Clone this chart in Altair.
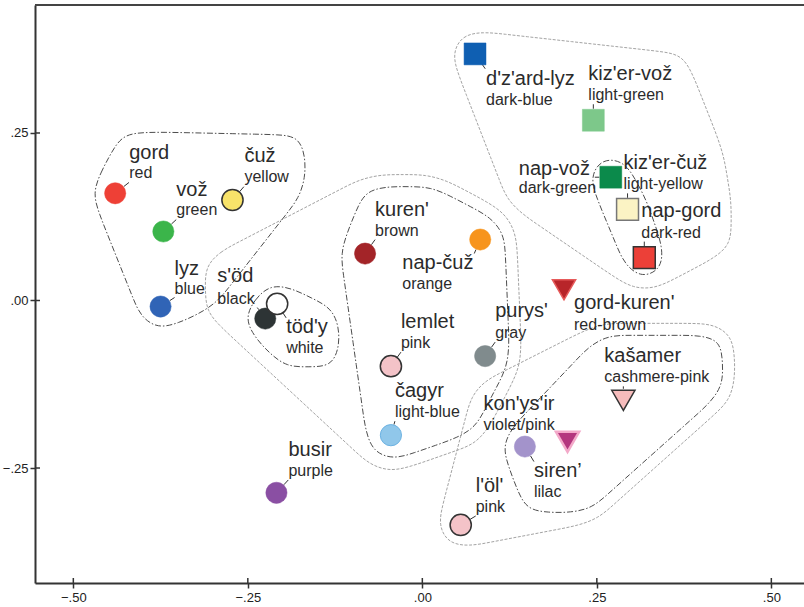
import math
import altair as alt
import pandas as pd

# ---- colour terms: two-dimensional scaling coordinates ----
terms = ["gord", "vož", "čuž", "lyz", "s'öd", "töd'y", "kuren'", "nap-čuž", "lemlet",
         "purys'", "čagyr", "busir", "siren’", "kon'ys'ir", "l'öl'", "kašamer",
         "gord-kuren'", "d'z'ard-lyz", "kiz'er-vož", "nap-vož", "kiz'er-čuž", "nap-gord"]
glosses = ["red", "green", "yellow", "blue", "black", "white", "brown", "orange", "pink",
           "gray", "light-blue", "purple", "lilac", "violet/pink", "pink", "cashmere-pink",
           "red-brown", "dark-blue", "light-green", "dark-green", "light-yellow", "dark-red"]
dim1 = [-0.440, -0.371, -0.272, -0.375, -0.225, -0.208, -0.082, 0.083, -0.045,
        0.090, -0.045, -0.209, 0.147, 0.208, 0.055, 0.288,
        0.203, 0.0755, 0.245, 0.270, 0.294, 0.318]
dim2 = [0.160, 0.103, 0.150, -0.009, -0.027, -0.005, 0.070, 0.091, -0.098,
        -0.083, -0.201, -0.287, -0.218, -0.211, -0.335, -0.149,
        0.016, 0.368, 0.269, 0.184, 0.136, 0.064]
term_type = ["basic"] * 13 + ["loan", "basic", "loan", "loan",
                              "compound", "compound", "compound", "compound", "compound"]

x_ticks = [-0.50, -0.25, 0.0, 0.25, 0.50]
y_ticks = [-0.25, 0.0, 0.25]

# ---- styling ----
shape_of = {"basic": "circle", "compound": "square", "loan": "triangle-down"}
size_of = {"circle": 450, "square": 480, "triangle-down": 540}
radius_of = {"circle": 10.5, "square": 11, "triangle-down": 11}
# fill, stroke, stroke width
marker_style = {
    "gord": ("#ee4036", None, 0), "vož": ("#3bb54a", None, 0),
    "čuž": ("#f8e36a", "#333333", 1.5), "lyz": ("#3064b6", None, 0),
    "s'öd": ("#2d3435", None, 0), "töd'y": ("#ffffff", "#333333", 1.5),
    "kuren'": ("#a32428", None, 0), "nap-čuž": ("#f7941d", None, 0),
    "lemlet": ("#f4c3c8", "#333333", 1.5), "purys'": ("#808b8d", None, 0),
    "čagyr": ("#90c7ea", "#6cb2e2", 1), "busir": ("#8a4fa3", None, 0),
    "siren’": ("#a393cb", None, 0), "kon'ys'ir": ("#b4367e", "#f3a9c9", 2.5),
    "l'öl'": ("#f4c3c8", "#333333", 1.5), "kašamer": ("#f6bcbc", "#333333", 1.5),
    "gord-kuren'": ("#b8252a", "#e65a5a", 1.5), "d'z'ard-lyz": ("#0f5fb2", None, 0),
    "kiz'er-vož": ("#7dc88a", None, 0), "nap-vož": ("#0b8a4b", None, 0),
    "kiz'er-čuž": ("#fbf3c4", "#777777", 1.5), "nap-gord": ("#ec4038", "#333333", 1.5),
}
# label placement in pixels: left offset, name baseline offset, gloss baseline offset
label_offset = {
    "gord": (14, -34, -15), "vož": (13, -35, -16), "čuž": (12, -38, -18),
    "lyz": (14, -32, -13), "s'öd": (-48, -37, -15), "töd'y": (9, 29, 49),
    "kuren'": (10, -38, -18), "nap-čuž": (-78, 29, 49), "lemlet": (10, -38, -18),
    "purys'": (10, -39, -18), "čagyr": (4, -38, -18), "busir": (12, -37, -17),
    "siren’": (9, 30, 50), "kon'ys'ir": (-84, -32, -12), "l'öl'": (15, -33, -13),
    "kašamer": (-19, -38, -18), "gord-kuren'": (10, 19, 40), "d'z'ard-lyz": (11, 31, 51),
    "kiz'er-vož": (-5, -40, -20), "nap-vož": (-92, -2, 16), "kiz'er-čuž": (-4, -40, -20),
    "nap-gord": (-3, -41, -20),
}
NAME_FS, GLOSS_FS = 20, 16
FONT = "Liberation Sans"
TEXT_COLOR = "#2b2b2b"

# plot geometry and scale domains
W, H = 769, 578
XMIN, XMAX = -0.5549, 0.5468
YMIN, YMAX = -0.4216, 0.4410
KX = W / (XMAX - XMIN)
KY = H / (YMAX - YMIN)


def to_px(x, y):
    return (x - XMIN) * KX, (YMAX - y) * KY


def to_data(px, py):
    return XMIN + px / KX, YMAX - py / KY


def text_width(s, fs):
    w = 0.0
    for c in s:
        if c in "'’":
            w += 0.2
        elif c in "ijlrtf-./":
            w += 0.3
        elif c in "mw":
            w += 0.8
        else:
            w += 0.55
    return w * fs


rows, boxes = [], {}
for t, g, x, y, k in zip(terms, glosses, dim1, dim2, term_type):
    shp = shape_of[k]
    fill, stroke, sw = marker_style[t]
    dx, ndy, gdy = label_offset[t]
    px, py = to_px(x, y)
    left = px + dx
    right = left + max(text_width(t, NAME_FS), text_width(g, GLOSS_FS))
    top, bottom = py + ndy - 15, py + gdy + 4
    boxes[t] = (left, right, top, bottom)
    nx, ny = to_data(left, py + ndy)
    gx, gy = to_data(left, py + gdy)
    rows.append(dict(term=t, gloss=g, x=x, y=y, shape=shp, size=size_of[shp],
                     fill=fill, stroke=stroke or fill, sw=sw or 0.5,
                     nx=nx, ny=ny, gx=gx, gy=gy, px=px, py=py, r=radius_of[shp]))
points = pd.DataFrame(rows)

# short leader ticks from each marker towards its label
lead_rows = []
for _, p in points.iterrows():
    l, rgt, tp, bt = boxes[p.term]
    cx, cy = min(max(p.px, l), rgt), min(max(p.py, tp), bt)
    vx, vy = cx - p.px, cy - p.py
    d = math.hypot(vx, vy)
    if d < p.r + 2:
        continue
    ux, uy = vx / d, vy / d
    s, e = p.r + 0.5, min(p.r + 7, d)
    x1, y1 = to_data(p.px + ux * s, p.py + uy * s)
    x2, y2 = to_data(p.px + ux * e, p.py + uy * e)
    lead_rows.append(dict(x=x1, y=y1, x2=x2, y2=y2))
leaders = pd.DataFrame(lead_rows)


# ---- cluster outlines: padded convex hulls around members and their labels ----
def convex_hull(pts):
    pts = sorted(set(pts))
    if len(pts) < 3:
        return pts

    def cross(o, a, b):
        return (a[0] - o[0]) * (b[1] - o[1]) - (a[1] - o[1]) * (b[0] - o[0])
    lower, upper = [], []
    for p in pts:
        while len(lower) >= 2 and cross(lower[-2], lower[-1], p) <= 0:
            lower.pop()
        lower.append(p)
    for p in reversed(pts):
        while len(upper) >= 2 and cross(upper[-2], upper[-1], p) <= 0:
            upper.pop()
        upper.append(p)
    return lower[:-1] + upper[:-1]


def ring(cx, cy, r, n=28):
    return [(round(cx + r * math.cos(2 * math.pi * i / n), 3),
             round(cy + r * math.sin(2 * math.pi * i / n), 3)) for i in range(n)]


def resample(poly, step):
    """Evenly spaced points along a closed polygon."""
    closed = poly + poly[:1]
    segs = [math.hypot(b[0] - a[0], b[1] - a[1]) for a, b in zip(closed, closed[1:])]
    total = sum(segs)
    n = max(8, int(total / step))
    out, si, acc = [], 0, 0.0
    for k in range(n):
        target = k * total / n
        while acc + segs[si] < target:
            acc += segs[si]
            si += 1
        a, b = closed[si], closed[si + 1]
        f = (target - acc) / segs[si] if segs[si] else 0
        out.append((a[0] + f * (b[0] - a[0]), a[1] + f * (b[1] - a[1])))
    return out


# name, style, enclosed markers, enclosed labels, nested groups, padding
groups = [
    ("A", "inner", ["gord", "vož", "čuž", "lyz"], ["gord", "vož", "čuž", "lyz"], [], 12),
    ("B", "inner", ["s'öd", "töd'y"], ["töd'y"], [], 10),
    ("D", "inner", ["kuren'", "nap-čuž", "lemlet", "purys'", "čagyr"],
     ["kuren'", "nap-čuž", "lemlet", "čagyr"], [], 14),
    ("C", "outer", [], ["s'öd"], ["B", "D"], 12),
    ("F", "inner", ["nap-vož", "kiz'er-čuž", "nap-gord"], [], [], 10),
    ("E", "outer", ["d'z'ard-lyz", "kiz'er-vož"],
     ["d'z'ard-lyz", "kiz'er-vož", "nap-vož", "kiz'er-čuž", "nap-gord"], ["F"], 12),
    ("H", "inner", ["siren’", "kon'ys'ir", "kašamer"], ["siren’", "kašamer"], [], 12),
    ("G", "outer", ["l'öl'"], ["l'öl'", "kon'ys'ir"], ["H"], 12),
]
pidx = points.set_index("term")
hulls, hull_rows = {}, []
for name, style, members, labels, nested, pad in groups:
    anchors = []
    for m in members:
        p = pidx.loc[m]
        anchors += ring(p.px, p.py, p.r + pad)
    for m in labels:
        l, rgt, tp, bt = boxes[m]
        for cx, cy in [(l, tp), (rgt, tp), (l, bt), (rgt, bt)]:
            anchors += ring(cx, cy, pad, 12)
    for g in nested:
        for cx, cy in hulls[g]:
            anchors += ring(cx, cy, pad, 12)
    h = convex_hull(anchors)
    hulls[name] = h
    smooth = resample(h, 22)
    for i, (hx, hy) in enumerate(smooth):
        dxv, dyv = to_data(hx, hy)
        hull_rows.append(dict(group=name, style=style, i=i, x=dxv, y=dyv))
outlines = pd.DataFrame(hull_rows)

# ---- scales and axes ----
xs = alt.Scale(domain=[XMIN, XMAX], nice=False, zero=False)
ys = alt.Scale(domain=[YMIN, YMAX], nice=False, zero=False)
lbl = "replace(format(datum.value, '.2f'), '0.', '.')"
axis_common = dict(grid=False, tickSize=5, tickWidth=1.5, tickColor="#333333",
                   domainColor="#333333", domainWidth=2, labelFontSize=13,
                   labelColor="#222222", labelFont=FONT, labelExpr=lbl, title=None)
x_axis = alt.Axis(values=x_ticks, labelPadding=3, **axis_common)
y_axis = alt.Axis(values=y_ticks, labelPadding=2, **axis_common)


def X(f):
    return alt.X(f, type="quantitative", scale=xs, axis=x_axis)


def Y(f):
    return alt.Y(f, type="quantitative", scale=ys, axis=y_axis)


inner_lines = alt.Chart(outlines[outlines["style"] == "inner"]).mark_line(
    color="#4d4d4d", strokeWidth=1, strokeDash=[6, 2, 1.5, 2], interpolate="basis-closed"
).encode(x=X("x"), y=Y("y"), detail="group:N", order="i:Q")

outer_lines = alt.Chart(outlines[outlines["style"] == "outer"]).mark_line(
    color="#a3a3a3", strokeWidth=1, strokeDash=[3, 1.5], interpolate="basis-closed"
).encode(x=X("x"), y=Y("y"), detail="group:N", order="i:Q")

leader_marks = alt.Chart(leaders).mark_rule(color="#333333", strokeWidth=1).encode(
    x=X("x"), y=Y("y"), x2="x2:Q", y2="y2:Q")

markers = alt.Chart(points).mark_point(filled=True, opacity=1).encode(
    x=X("x"), y=Y("y"),
    shape=alt.Shape("shape:N", scale=None),
    size=alt.Size("size:Q", scale=None),
    fill=alt.Fill("fill:N", scale=None),
    stroke=alt.Stroke("stroke:N", scale=None),
    strokeWidth=alt.StrokeWidth("sw:Q", scale=None),
)

names = alt.Chart(points).mark_text(
    align="left", baseline="alphabetic", font=FONT, fontSize=NAME_FS, color=TEXT_COLOR
).encode(x=X("nx"), y=Y("ny"), text="term:N")

gloss_text = alt.Chart(points).mark_text(
    align="left", baseline="alphabetic", font=FONT, fontSize=GLOSS_FS, color=TEXT_COLOR
).encode(x=X("gx"), y=Y("gy"), text="gloss:N")

# inward halves of the axis ticks and the frame's top edge
xt = pd.DataFrame({"v": x_ticks})
yt = pd.DataFrame({"v": y_ticks})
x_inner_ticks = alt.Chart(xt).mark_rule(color="#333333", strokeWidth=1.5).encode(
    x=X("v"), y=alt.value(H - 5), y2=alt.value(H))
y_inner_ticks = alt.Chart(yt).mark_rule(color="#333333", strokeWidth=1.5).encode(
    y=Y("v"), x=alt.value(0), x2=alt.value(5))
top_edge = alt.Chart(xt).mark_rule(color="#444444", strokeWidth=2).encode(
    y=alt.value(0), x=alt.value(0), x2=alt.value(W))

chart = alt.layer(
    outer_lines, inner_lines, leader_marks, markers, names, gloss_text,
    x_inner_ticks, y_inner_ticks, top_edge
).properties(
    width=W, height=H,
    padding={"left": 35, "top": 5, "right": 0, "bottom": 24},
    autosize=alt.AutoSizeParams(type="none"),
    background="white",
).configure_view(stroke=None)

chart.save("out.html", embed_options={"renderer": "svg", "actions": False})
